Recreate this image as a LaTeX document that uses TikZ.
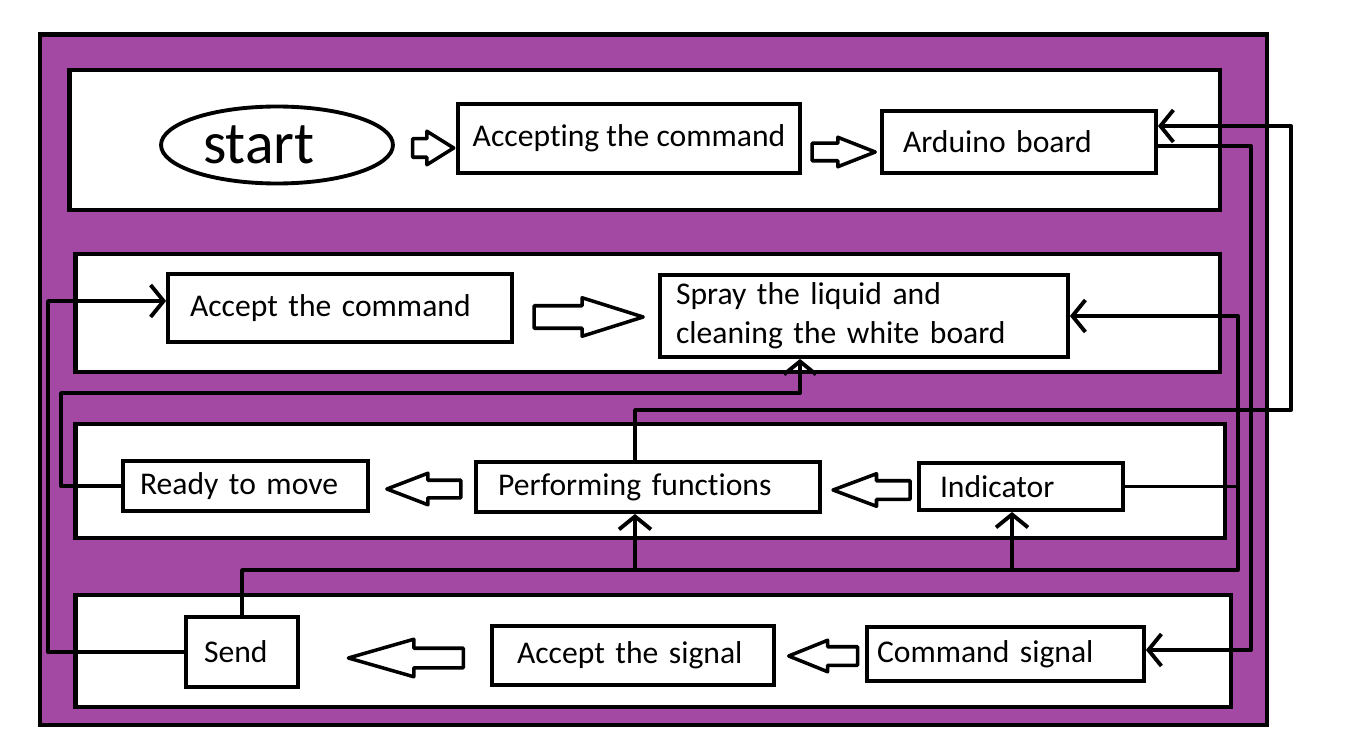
\documentclass[tikz,border=0pt]{standalone}
\usepackage{fontspec}
\setmainfont{Carlito}[Ligatures=NoCommon]
\usetikzlibrary{arrows.meta, calc, shapes.geometric, shapes.arrows}
\definecolor{paintpurple}{HTML}{A349A4}

\tikzset{
  box/.style={draw, fill=white, line width=2.2pt, font=\fontsize{18}{22}\selectfont, align=left, inner xsep=0pt, inner ysep=0pt},
  band/.style={draw, fill=white, line width=2.4pt},
  conn/.style={line width=2.2pt, line cap=round, line join=round},
  hollow/.style n args={4}{single arrow, draw, fill=white, line width=2pt, line join=round, inner sep=0pt, text depth=0pt, single arrow head indent=0pt, anchor=tip, minimum height=#1, text height=#2, single arrow head extend=#3, single arrow tip angle=#4},
}

\begin{document}
\begin{tikzpicture}[x=0.02cm, y=-0.02cm, >={Straight Barb[length=2.6mm, width=6.4mm]}]

% Canvas
\useasboundingbox (0,0) rectangle (1346,753);
\fill[white] (0,0) rectangle (1346,753);

% Purple frame
\draw[fill=paintpurple, line width=2.8pt] (40,34.5) rectangle (1267,725);

% Bands
\draw[band] (69.5,70) rectangle (1220,210);
\draw[band] (75.5,254) rectangle (1220,372);
\draw[band] (75.5,424) rectangle (1225,538);
\draw[band] (75.5,595) rectangle (1231,707);

% Row 1
\node[draw, ellipse, line width=2.2pt, fill=white, inner sep=0pt, minimum width=4.64cm, minimum height=1.54cm, font=\fontsize{34}{40}\selectfont] (start) at (277,145) {\hspace*{-0.72cm}start};
\node[box, minimum width=6.84cm, minimum height=1.38cm] (cmd) at (629,138.5) {Accept\kern0pt ing the command};
\node[box, minimum width=5.48cm, minimum height=1.24cm, text width=4.64cm] (ard) at (1019,142) {Arduino board};

% Row 2
\node[box, minimum width=6.88cm, minimum height=1.36cm, text width=6.0cm] (acc) at (340,308) {Accept the command};
\node[box, minimum width=8.16cm, minimum height=1.64cm, text width=7.52cm] (spray) at (864,316) {Spray the liquid and\\cleaning the white board};

% Row 3
\node[box, minimum width=4.9cm, minimum height=1.0cm, text width=4.22cm] (ready) at (245.5,486) {Ready to move};
\node[box, minimum width=6.88cm, minimum height=1.0cm, text width=6.0cm] (perf) at (648,487) {Performing functions};
\node[box, minimum width=4.08cm, minimum height=0.94cm, text width=3.24cm] (ind) at (1021,486.5) {Indicator};

% Row 4
\node[box, minimum width=2.24cm, minimum height=1.4cm, text width=1.52cm] (send) at (242,652) {Send};
\node[box, minimum width=5.64cm, minimum height=1.18cm, text width=4.64cm] (sig) at (633,655.5) {Accept the signal};
\node[box, minimum width=5.54cm, minimum height=1.08cm, text width=5.14cm] (csig) at (1005.5,654) {Command signal};

% Hollow block arrows
\node[hollow={0.82cm}{0.3cm}{0.15cm}{64}] (ar1) at (457,148) {};
\node[hollow={1.26cm}{0.28cm}{0.12cm}{43}] (ar2) at (880,152) {};
\node[hollow={2.18cm}{0.38cm}{0.16cm}{35}] (ar3) at (649,317) {};
\node[hollow={1.54cm}{0.3cm}{0.14cm}{41}, shape border rotate=180] (ar4) at (828,490) {};
\node[hollow={1.48cm}{0.28cm}{0.14cm}{42}, shape border rotate=180] (ar5) at (382,489) {};
\node[hollow={1.38cm}{0.3cm}{0.13cm}{44}, shape border rotate=180] (ar6) at (784,656) {};
\node[hollow={2.3cm}{0.32cm}{0.18cm}{32}, shape border rotate=180] (ar7) at (342,658) {};

% Rails
\coordinate (lft) at (48,301);
\coordinate (lft2) at (61,393);
\coordinate (up) at (800,393);
\coordinate (pv) at (635,410);
\coordinate (rgt) at (1291,410);
\coordinate (rv) at (1251,650);
\coordinate (mv) at (1238,316);
\coordinate (bus) at (1238,570);
\coordinate (j1) at (635,570);
\coordinate (j2) at (1012,570);

% Connectors
\draw[conn, ->] (pv |- perf.north) -- (pv) -- (rgt) |- ($(ard.east)+(0,-16)$);
\draw[conn, ->] ($(ard.east)+(0,4)$) -| (rv) -- (rv -| csig.east);
\draw[conn, ->] (ind.east) -| (mv) -- (mv -| spray.east);
\draw[conn] (send.north) |- (bus) -- (bus |- ind.east);
\draw[conn, ->] (j1) -- (j1 |- perf.south);
\draw[conn, ->] (j2) -- (j2 |- ind.south);
\draw[conn, ->] (send.west) -| (lft) -- (lft -| acc.west);
\draw[conn, ->] (ready.west) -| (lft2) -- (up) -- (up |- spray.south);

\end{tikzpicture}
\end{document}
